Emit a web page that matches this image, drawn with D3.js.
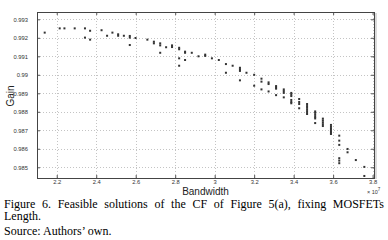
<!DOCTYPE html>
<html>
<head>
<meta charset="utf-8">
<script src="https://cdn.jsdelivr.net/npm/d3@7"></script>
<style>
  body { margin: 0; background: #fff; }
  svg { display: block; }
</style>
</head>
<body>
<svg id="chart" width="388" height="240"></svg>
<script>
// bandwidth in units of 1e7 (axis shows x 10^7)
const bandwidth = [
  2.139, 2.215, 2.239, 2.291, 2.343, 2.343, 2.369, 2.369, 2.427, 2.455,
  2.482, 2.511, 2.511, 2.540, 2.570, 2.570, 2.570, 2.599, 2.659, 2.692,
  2.692, 2.724, 2.724, 2.724, 2.754, 2.784, 2.784, 2.820, 2.820, 2.820,
  2.820, 2.850, 2.850, 2.850, 2.884, 2.918, 2.952, 2.952, 2.986, 3.021,
  3.057, 3.057, 3.091, 3.128, 3.128, 3.128, 3.128, 3.161, 3.200, 3.200,
  3.237, 3.237, 3.237, 3.273, 3.273, 3.273, 3.311, 3.311, 3.311, 3.311,
  3.350, 3.350, 3.350, 3.350, 3.388, 3.388, 3.388, 3.388, 3.388, 3.388,
  3.428, 3.428, 3.428, 3.428, 3.468, 3.468, 3.468, 3.468, 3.468, 3.468,
  3.509, 3.509, 3.509, 3.509, 3.509, 3.509, 3.548, 3.548, 3.548, 3.548,
  3.548, 3.589, 3.589, 3.589, 3.589, 3.589, 3.589, 3.631, 3.631, 3.631,
  3.631, 3.631, 3.631, 3.673, 3.673, 3.715, 3.758, 3.758
];
const gain = [
  0.99228, 0.99251, 0.99251, 0.99251, 0.99251, 0.99201, 0.99238, 0.99190, 0.99241, 0.99211,
  0.99228, 0.99219, 0.99211, 0.99211, 0.99210, 0.99201, 0.99161, 0.99199, 0.99190, 0.99179,
  0.99170, 0.99170, 0.99159, 0.99119, 0.99149, 0.99159, 0.99150, 0.99146, 0.99138, 0.99089,
  0.99049, 0.99125, 0.99119, 0.99080, 0.99119, 0.99100, 0.99109, 0.99102, 0.99089, 0.99080,
  0.99058, 0.99011, 0.99049, 0.99038, 0.99030, 0.99021, 0.98970, 0.99011, 0.99000, 0.98941,
  0.98979, 0.98963, 0.98921, 0.98959, 0.98950, 0.98910, 0.98939, 0.98931, 0.98925, 0.98890,
  0.98921, 0.98912, 0.98902, 0.98878, 0.98902, 0.98894, 0.98885, 0.98864, 0.98853, 0.98846,
  0.98869, 0.98853, 0.98842, 0.98819, 0.98842, 0.98831, 0.98821, 0.98810, 0.98799, 0.98788,
  0.98802, 0.98794, 0.98783, 0.98772, 0.98764, 0.98739, 0.98763, 0.98753, 0.98743, 0.98733,
  0.98723, 0.98729, 0.98718, 0.98707, 0.98696, 0.98688, 0.98680, 0.98671, 0.98644, 0.98621,
  0.98549, 0.98536, 0.98522, 0.98599, 0.98581, 0.98539, 0.98502, 0.98453
];
const xTicks = [2.2, 2.4, 2.6, 2.8, 3.0, 3.2, 3.4, 3.6, 3.8];
const yTicks = [0.985, 0.986, 0.987, 0.988, 0.989, 0.99, 0.991, 0.992, 0.993];
const captionLine1 = "Figure 6. Feasible solutions of the CF of Figure 5(a), fixing MOSFETs";
const captionLine2 = "Length.";
const captionLine3 = "Source: Authors\u2019 own.";

const svg = d3.select("#chart");
const margin = {left: 37, right: 14, top: 12, bottom: 62};
const W = 388, H = 240;
const plotW = W - margin.left - margin.right;
const plotH = H - margin.top - margin.bottom;

const x = d3.scaleLinear().domain([2.1, 3.807]).range([0, plotW]);
const y = d3.scaleLinear().domain([0.98442, 0.993395]).range([plotH, 0]);
const fmt = d => String(+d.toFixed(3));

const g = svg.append("g").attr("transform", "translate(" + margin.left + "," + margin.top + ")");

// dotted grid
g.append("g").selectAll("line").data(xTicks).enter().append("line")
  .attr("x1", d => Math.round(x(d)) + 0.5).attr("x2", d => Math.round(x(d)) + 0.5)
  .attr("y1", 0).attr("y2", plotH)
  .attr("stroke", "#c4c4c4").attr("stroke-dasharray", "1,2");
g.append("g").selectAll("line").data(yTicks).enter().append("line")
  .attr("y1", d => Math.round(y(d)) + 0.5).attr("y2", d => Math.round(y(d)) + 0.5)
  .attr("x1", 0).attr("x2", plotW)
  .attr("stroke", "#c4c4c4").attr("stroke-dasharray", "1,2");

// axes, ticks pointing inwards
const xAxis = g.append("g").attr("transform", "translate(0," + plotH + ")")
  .call(d3.axisBottom(x).tickValues(xTicks).tickFormat(fmt).tickSizeInner(-3).tickSizeOuter(0).tickPadding(2));
const xTop = g.append("g")
  .call(d3.axisTop(x).tickValues(xTicks).tickFormat("").tickSizeInner(-3).tickSizeOuter(0));
const yAxis = g.append("g")
  .call(d3.axisLeft(y).tickValues(yTicks).tickFormat(fmt).tickSizeInner(-3).tickSizeOuter(0).tickPadding(9));
const yRight = g.append("g").attr("transform", "translate(" + plotW + ",0)")
  .call(d3.axisRight(y).tickValues(yTicks).tickFormat("").tickSizeInner(-3).tickSizeOuter(0));

[xAxis, xTop, yAxis, yRight].forEach(a => {
  a.select(".domain").remove();
  a.selectAll(".tick line").attr("stroke", "#555");
  a.selectAll("text").attr("font-family", "Liberation Sans, Arial, sans-serif")
    .attr("font-size", 5.8).attr("fill", "#333");
});

// frame + right shadow
g.append("rect").attr("x", 0.5).attr("y", 0.5).attr("width", plotW).attr("height", plotH)
  .attr("fill", "none").attr("stroke", "#444");
g.append("line").attr("x1", plotW + 2).attr("x2", plotW + 2).attr("y1", 1).attr("y2", plotH + 1)
  .attr("stroke", "#cfcfcf").attr("stroke-width", 1.5);

// points
g.append("g").selectAll("rect").data(bandwidth).enter().append("rect")
  .attr("x", (d, i) => x(d) - 1)
  .attr("y", (d, i) => y(gain[i]) - 1)
  .attr("width", 2).attr("height", 2)
  .attr("fill", "#333");

// axis titles
g.append("text").attr("x", plotW / 2).attr("y", plotH + 16.5)
  .attr("text-anchor", "middle").attr("font-family", "Liberation Sans, Arial, sans-serif")
  .attr("font-size", 10).attr("fill", "#222").text("Bandwidth");
g.append("text").attr("transform", "translate(" + (13.5 - margin.left) + "," + (plotH / 2 + 1) + ") rotate(-90)")
  .attr("text-anchor", "middle").attr("font-family", "Liberation Sans, Arial, sans-serif")
  .attr("font-size", 10).attr("fill", "#222").text("Gain");
const expo = g.append("text").attr("x", plotW - 7).attr("y", plotH + 16)
  .attr("font-family", "Liberation Sans, Arial, sans-serif").attr("font-size", 5.5).attr("fill", "#333");
expo.append("tspan").text("\u00d7 10");
expo.append("tspan").attr("dy", -3).attr("font-size", 4.5).text("7");

// caption, first line justified
const cap = svg.append("g").attr("font-family", "Liberation Serif, Times New Roman, serif")
  .attr("font-size", 12).attr("fill", "#000");
const l1 = cap.append("text").attr("x", 4).attr("y", 207.5).text(captionLine1);
const natural = l1.node().getComputedTextLength();
const gaps = captionLine1.split(" ").length - 1;
l1.attr("word-spacing", ((384 - 4) - natural) / gaps);
cap.append("text").attr("x", 4).attr("y", 220).text(captionLine2);
cap.append("text").attr("x", 4).attr("y", 235).text(captionLine3);
</script>
</body>
</html>
